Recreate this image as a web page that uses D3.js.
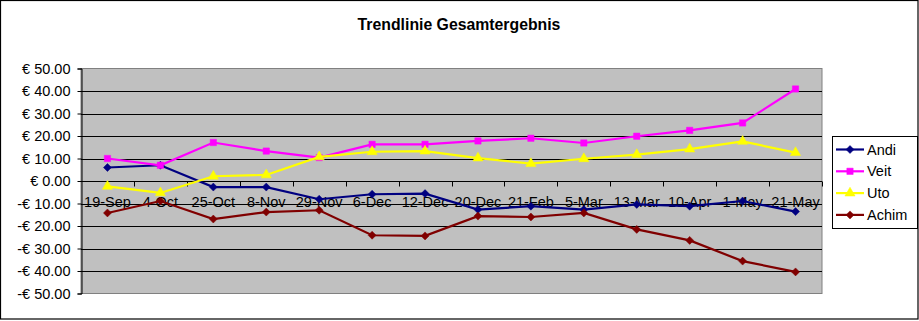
<!DOCTYPE html>
<html lang="de">
<head>
<meta charset="utf-8">
<title>Trendlinie Gesamtergebnis</title>
<script src="https://cdn.jsdelivr.net/npm/d3@7"></script>
<style>
  body { margin: 0; background: #fff; }
  text { font-family: Arial, "Liberation Sans", sans-serif; }
</style>
</head>
<body>
<script>
// categories (x axis)
var dates = ["19-Sep", "4-Oct", "25-Oct", "8-Nov", "29-Nov", "6-Dec", "12-Dec",
             "20-Dec", "21-Feb", "5-Mar", "13-Mar", "10-Apr", "1-May", "21-May"];

// series values
var andi  = [6.0, 7.0, -2.7, -2.7, -8.1, -5.9, -5.6, -12.7, -11.2, -12.7, -10.4, -11.2, -8.9, -13.6];
var veit  = [10.0, 7.0, 17.1, 13.3, 10.4, 16.3, 16.3, 17.8, 19.0, 16.9, 19.9, 22.5, 25.8, 40.9];
var uto   = [-2.4, -5.3, 2.1, 2.7, 10.7, 13.0, 13.3, 10.2, 7.7, 9.9, 11.7, 14.2, 17.6, 12.6];
var achim = [-14.2, -8.9, -16.9, -13.8, -13.0, -24.1, -24.4, -15.6, -16.0, -14.2, -21.5, -26.4, -35.6, -40.4];

var yTicks = [50, 40, 30, 20, 10, 0, -10, -20, -30, -40, -50];

var series = [
  { name: "Andi",  values: andi,  color: "#000080", marker: "diamond" },
  { name: "Veit",  values: veit,  color: "#FF00FF", marker: "square" },
  { name: "Uto",   values: uto,   color: "#FFFF00", marker: "triangle" },
  { name: "Achim", values: achim, color: "#800000", marker: "diamond" }
];

var W = 919, H = 321;
var plot = { left: 81, top: 68.5, right: 822, bottom: 293.5 };

var svg = d3.select("body").append("svg")
    .attr("width", W)
    .attr("height", H);

// outer frame
svg.append("rect")
    .attr("x", 0.5).attr("y", 0.5)
    .attr("width", 917.5).attr("height", 318.5)
    .attr("fill", "#fff")
    .attr("stroke", "#000")
    .attr("stroke-width", 1.2);

// title
svg.append("text")
    .attr("x", 459).attr("y", 30)
    .attr("text-anchor", "middle")
    .attr("font-size", "15.8px")
    .attr("font-weight", "bold")
    .text("Trendlinie Gesamtergebnis");

var x = d3.scaleBand()
    .domain(dates)
    .range([plot.left, plot.right]);

var y = d3.scaleLinear()
    .domain([-50, 50])
    .range([plot.bottom, plot.top]);

// plot area
svg.append("rect")
    .attr("x", plot.left).attr("y", plot.top)
    .attr("width", plot.right - plot.left)
    .attr("height", plot.bottom - plot.top)
    .attr("fill", "#C0C0C0")
    .attr("stroke", "#808080")
    .attr("stroke-width", 1);

// gridlines
svg.append("g")
    .selectAll("line")
    .data(yTicks.filter(function(d) { return d !== 50 && d !== -50; }))
    .enter().append("line")
    .attr("x1", plot.left).attr("x2", plot.right)
    .attr("y1", function(d) { return Math.round(y(d)) + 0.5; })
    .attr("y2", function(d) { return Math.round(y(d)) + 0.5; })
    .attr("stroke", "#000")
    .attr("stroke-width", 1);

// y axis
var yAxis = svg.append("g")
    .attr("transform", "translate(" + (plot.left + 0.5) + ",0)")
    .call(d3.axisLeft(y)
        .tickValues(yTicks)
        .tickSize(4)
        .tickPadding(7)
        .tickFormat(function(d) {
            return (d < 0 ? "-€ " : "€ ") + Math.abs(d).toFixed(2);
        }));
yAxis.select(".domain").attr("stroke", "#000");
yAxis.selectAll(".tick line").attr("stroke", "#000");
yAxis.selectAll(".tick text")
    .attr("font-size", "14.5px")
    .attr("fill", "#000")
    .attr("font-family", "Arial, 'Liberation Sans', sans-serif");

// x axis along zero line, ticks at category boundaries
var zeroY = Math.round(y(0)) + 0.5;
var xg = svg.append("g");
xg.append("line")
    .attr("x1", plot.left).attr("x2", plot.right)
    .attr("y1", zeroY).attr("y2", zeroY)
    .attr("stroke", "#000");
xg.selectAll("line.tick")
    .data(dates.slice(1).concat(["end"]))
    .enter().append("line")
    .attr("class", "tick")
    .attr("x1", function(d, i) { return Math.round(x(dates[i]) + x.bandwidth()) + 0.5; })
    .attr("x2", function(d, i) { return Math.round(x(dates[i]) + x.bandwidth()) + 0.5; })
    .attr("y1", zeroY).attr("y2", zeroY + 5)
    .attr("stroke", "#000");
xg.selectAll("text")
    .data(dates)
    .enter().append("text")
    .attr("x", function(d) { return x(d) + x.bandwidth() / 2; })
    .attr("y", zeroY + 25.5)
    .attr("text-anchor", "middle")
    .attr("font-size", "14.5px")
    .attr("fill", "#000")
    .text(function(d) { return d; });

// marker shapes
function markerPath(type) {
    if (type === "square") return d3.symbol().type(d3.symbolSquare).size(40)();
    if (type === "triangle") return d3.symbol().type(d3.symbolTriangle).size(45)();
    return "M0,-4L4,0L0,4L-4,0Z";
}

var line = d3.line()
    .x(function(d, i) { return x(dates[i]) + x.bandwidth() / 2; })
    .y(function(d) { return y(d); });

series.forEach(function(s) {
    var g = svg.append("g");
    g.append("path")
        .datum(s.values)
        .attr("d", line)
        .attr("fill", "none")
        .attr("stroke", s.color)
        .attr("stroke-width", 2.2);
    g.selectAll("path.m")
        .data(s.values)
        .enter().append("path")
        .attr("class", "m")
        .attr("d", markerPath(s.marker))
        .attr("transform", function(d, i) {
            return "translate(" + (x(dates[i]) + x.bandwidth() / 2) + "," + y(d) + ")";
        })
        .attr("fill", s.color)
        .attr("stroke", s.color)
        .attr("stroke-width", 0.5);
});

// legend
var lg = svg.append("g");
lg.append("rect")
    .attr("x", 832.5).attr("y", 136.5)
    .attr("width", 85).attr("height", 92)
    .attr("fill", "#fff")
    .attr("stroke", "#000")
    .attr("stroke-width", 1);
series.forEach(function(s, i) {
    var ly = 149.5 + i * 21.8;
    lg.append("line")
        .attr("x1", 836).attr("x2", 864)
        .attr("y1", ly).attr("y2", ly)
        .attr("stroke", s.color)
        .attr("stroke-width", 2.2);
    lg.append("path")
        .attr("d", markerPath(s.marker))
        .attr("transform", "translate(850," + ly + ")")
        .attr("fill", s.color)
        .attr("stroke", s.color)
        .attr("stroke-width", 0.5);
    lg.append("text")
        .attr("x", 867).attr("y", ly + 5)
        .attr("font-size", "14.5px")
        .attr("fill", "#000")
        .text(s.name);
});
</script>
</body>
</html>
